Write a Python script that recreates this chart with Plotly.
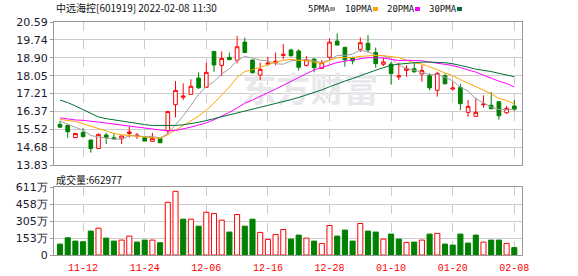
import plotly.graph_objects as go

# ---------------- data ----------------
dates = ["11-09", "11-10", "11-11", "11-12", "11-15", "11-16", "11-17", "11-18", "11-19", "11-22",
         "11-23", "11-24", "11-25", "11-26", "11-29", "11-30", "12-01", "12-02", "12-03", "12-06",
         "12-07", "12-08", "12-09", "12-10", "12-13", "12-14", "12-15", "12-16", "12-17", "12-20",
         "12-21", "12-22", "12-23", "12-24", "12-27", "12-28", "12-29", "12-30", "12-31", "01-04",
         "01-05", "01-06", "01-07", "01-10", "01-11", "01-12", "01-13", "01-14", "01-17", "01-18",
         "01-19", "01-20", "01-21", "01-24", "01-25", "01-26", "01-27", "01-28", "02-07", "02-08"]

opens = [15.75, 15.70, 15.13, 15.37, 15.01, 14.61, 15.25, 15.12, 15.07, 15.32,
         15.20, 15.12, 14.95, 15.09, 15.46, 16.68, 17.03, 17.17, 17.94, 17.50,
         19.20, 18.54, 18.92, 18.78, 19.64, 18.79, 18.08, 18.59, 18.68, 19.01,
         19.27, 19.22, 18.54, 18.84, 18.40, 18.92, 19.69, 19.39, 18.90, 19.30,
         19.58, 19.15, 18.59, 18.60, 17.99, 18.30, 18.38, 18.13, 18.05, 17.36,
         18.05, 17.42, 17.50, 16.32, 16.13, 16.68, 16.65, 16.82, 16.30, 16.62]
highs = [15.92, 15.72, 15.34, 15.58, 15.03, 15.32, 15.35, 15.35, 15.22, 15.64,
         15.35, 15.18, 15.35, 15.14, 16.38, 17.80, 17.69, 17.88, 18.21, 18.67,
         19.20, 19.20, 19.14, 19.93, 19.85, 18.82, 18.67, 18.95, 19.15, 19.55,
         19.33, 19.30, 18.98, 18.86, 18.79, 19.82, 20.05, 19.42, 18.95, 19.86,
         19.97, 19.38, 18.90, 18.70, 18.67, 18.54, 18.70, 18.56, 18.16, 18.24,
         18.16, 17.77, 17.66, 16.90, 17.01, 17.12, 17.28, 16.85, 16.62, 16.90]
lows = [15.58, 15.12, 15.11, 15.15, 14.41, 14.60, 14.82, 15.04, 14.82, 15.13,
        15.06, 14.96, 14.95, 14.87, 15.29, 16.08, 16.90, 17.17, 17.42, 17.50,
        18.24, 18.04, 18.81, 18.63, 19.11, 18.16, 17.85, 18.54, 18.54, 18.84,
        18.95, 18.29, 18.48, 18.21, 18.37, 18.82, 19.50, 18.48, 18.59, 19.17,
        19.15, 18.43, 18.51, 17.64, 17.85, 18.00, 18.19, 17.77, 17.37, 17.06,
        17.64, 17.34, 16.43, 16.11, 16.13, 16.54, 16.49, 15.97, 16.24, 16.38]
closes = [15.62, 15.40, 15.32, 15.17, 14.61, 15.28, 15.13, 15.07, 15.20, 15.39,
          15.24, 14.96, 15.09, 14.88, 16.36, 17.36, 17.09, 17.55, 17.48, 18.21,
          18.56, 18.87, 18.81, 19.42, 19.15, 18.19, 18.35, 18.65, 18.73, 19.06,
          19.00, 18.45, 18.81, 18.43, 18.67, 19.64, 19.50, 18.80, 18.75, 19.61,
          19.27, 18.62, 18.70, 18.15, 18.04, 18.40, 18.24, 18.30, 17.48, 18.16,
          17.67, 17.47, 16.73, 16.60, 16.32, 16.71, 16.49, 16.16, 16.51, 16.47]
prev_close = 15.90  # close of the day before the first visible day (volume colour)

# volume, in 万 shares
volumes = [98, 155, 125, 119, 215, 241, 152, 125, 134, 170,
           116, 134, 134, 110, 474, 572, 322, 322, 259, 384,
           373, 313, 206, 364, 259, 322, 203, 140, 185, 229,
           143, 179, 152, 125, 104, 265, 170, 224, 125, 283,
           215, 206, 143, 188, 143, 113, 116, 134, 188, 194,
           98, 89, 188, 107, 179, 116, 134, 134, 104, 66.2977]

# moving-average values before enough visible closes exist
ma5_head = [15.91, 15.75, 15.61, 15.48]
ma10_head = [15.985, 15.94, 15.89, 15.78, 15.67, 15.56, 15.43, 15.32, 15.26]
ma20_head = [16.06, 16.00, 15.96, 15.94, 15.91, 15.86, 15.81, 15.76, 15.71, 15.67,
             15.62, 15.56, 15.52, 15.48, 15.44, 15.46, 15.53, 15.62, 15.72]
ma30_head = [16.90, 16.78, 16.62, 16.45, 16.27, 16.10, 16.02, 15.96, 15.90, 15.84,
             15.79, 15.74, 15.70, 15.69, 15.69, 15.70, 15.73, 15.78, 15.85, 15.93,
             16.02, 16.10, 16.19, 16.27, 16.35, 16.44, 16.53, 16.62, 16.71]

label_dates = ["11-12", "11-24", "12-06", "12-16", "12-28", "01-10", "01-20", "02-08"]
price_tick_labels = ["13.83", "14.68", "15.52", "16.37", "17.21", "18.05", "18.90", "19.74", "20.59"]
vol_tick_values = [0, 152.75, 305.5, 458.25, 611]
vol_tick_labels = ["0", "153万", "305万", "458万", "611万"]

title_text = "中远海控[601919] 2022-02-08 11:30"
vol_title = "成交量:662977"
ma_names = ["5PMA", "10PMA", "20PMA", "30PMA"]
watermark = "东方财富"

# ---------------- derived ----------------
def moving_avg(vals, n, head):
    out = list(head)
    for i in range(len(head), len(vals)):
        out.append(sum(vals[i - n + 1:i + 1]) / n)
    return out

ma_values = [moving_avg(closes, 5, ma5_head), moving_avg(closes, 10, ma10_head),
             moving_avg(closes, 20, ma20_head), moving_avg(closes, 30, ma30_head)]
ma_colors = ["#a0a0a0", "#ffa500", "#ff00ff", "#006f33"]

RED = "#ff0000"
GREEN = "#008000"

xs = list(range(len(dates)))
tick_idx = [dates.index(d) for d in label_dates]
price_tick_vals = [float(v) for v in price_tick_labels]

prevs = [prev_close] + closes[:-1]
vol_up = [c >= p for c, p in zip(closes, prevs)]

fig = go.Figure()

# watermark on base axis (drawn beneath data)
fig.add_trace(go.Scatter(x=[32.5], y=[17.19], mode="text", text=[watermark],
                         textfont=dict(family="Noto Sans CJK SC", size=34, color="#e8e8ec", weight=700),
                         xaxis="x", yaxis="y", hoverinfo="skip", showlegend=False))

fig.add_trace(go.Candlestick(
    x=xs, open=opens, high=highs, low=lows, close=closes,
    increasing=dict(line=dict(color=RED, width=1), fillcolor="white"),
    decreasing=dict(line=dict(color=GREEN, width=1), fillcolor=GREEN),
    whiskerwidth=0, xaxis="x", yaxis="y3", showlegend=False))

for name, vals, col in zip(ma_names, ma_values, ma_colors):
    fig.add_trace(go.Scatter(x=xs, y=vals, mode="lines", name=name,
                             line=dict(color=col, width=1), xaxis="x", yaxis="y3",
                             showlegend=False))

fig.add_trace(go.Bar(
    x=xs, y=volumes,
    marker=dict(color=["white" if u else GREEN for u in vol_up],
                line=dict(color=[RED if u else GREEN for u in vol_up], width=1)),
    xaxis="x2", yaxis="y2", showlegend=False))

# ---------------- layout ----------------
L, R, T, B = 54, 56, 22, 21
W, H = 578, 276
plot_h = H - T - B
plot_w = W - L - R

def px_x(px):
    return (px - L) / plot_w

def px_y(py):
    return (H - B - py) / plot_h

price_bottom = px_y(165)
vol_top = px_y(187)

frame = dict(showline=True, mirror=True, linecolor="#999999", linewidth=1, automargin=False)
xcommon = dict(range=[-0.78, 60.0], tickvals=tick_idx, ticktext=label_dates,
               showgrid=True, gridcolor="#cccccc", griddash="dash", gridwidth=1,
               zeroline=False, **frame)

fig.update_layout(
    width=W, height=H, margin=dict(l=L, r=R, t=T, b=B, autoexpand=False),
    paper_bgcolor="white", plot_bgcolor="white",
    showlegend=False, bargap=0.34, boxgap=0.32,
    xaxis=dict(domain=[0, 1], anchor="y", showticklabels=False, ticks="",
               rangeslider=dict(visible=False), **xcommon),
    xaxis2=dict(domain=[0, 1], anchor="y2", matches="x", showticklabels=True,
                ticks="outside", ticklen=3, tickcolor="rgba(0,0,0,0)",
                tickfont=dict(family="Liberation Mono", size=10, color=RED), **xcommon),
    yaxis=dict(domain=[price_bottom, 1], anchor="x", range=[13.83, 20.59],
               tickvals=price_tick_vals, ticktext=price_tick_labels,
               showgrid=True, gridcolor="#cccccc", gridwidth=1, zeroline=False,
               ticks="outside", ticklen=3, tickcolor="#999999",
               tickfont=dict(family="DejaVu Sans", size=11, color="#1a1a2e"), **frame),
    yaxis3=dict(overlaying="y", anchor="x", range=[13.83, 20.59], visible=False,
                showgrid=False, zeroline=False),
    yaxis2=dict(domain=[0, vol_top], anchor="x2", range=[0, 611],
                tickvals=vol_tick_values, ticktext=vol_tick_labels,
                showgrid=True, gridcolor="#cccccc", gridwidth=1, zeroline=False,
                ticks="outside", ticklen=3, tickcolor="#999999",
                tickfont=dict(family="DejaVu Sans", size=11, color="#1a1a2e"), **frame),
)

ann = []
ann.append(dict(x=px_x(54), y=px_y(8), xref="paper", yref="paper", text=title_text,
                showarrow=False, xanchor="left", yanchor="middle",
                font=dict(family="Noto Sans CJK SC", size=10, color="#111111")))
ann.append(dict(x=px_x(54), y=px_y(180), xref="paper", yref="paper", text=vol_title,
                showarrow=False, xanchor="left", yanchor="middle",
                font=dict(family="Noto Sans CJK SC", size=10, color="#111111")))

legend_text_x = [306, 343, 385, 427]
legend_sq_x = [330, 373, 415, 457]
shapes = []
for name, col, tx, sx in zip(ma_names, ma_colors, legend_text_x, legend_sq_x):
    ann.append(dict(x=px_x(tx), y=px_y(8.5), xref="paper", yref="paper", text=name,
                    showarrow=False, xanchor="left", yanchor="middle",
                    font=dict(family="DejaVu Sans Mono", size=9, color="#111111")))
    shapes.append(dict(type="rect", xref="paper", yref="paper",
                       x0=px_x(sx), x1=px_x(sx + 5), y0=px_y(11), y1=px_y(7),
                       fillcolor=col, line=dict(width=0)))

fig.update_layout(annotations=ann, shapes=shapes)

fig.write_html("out.html")
